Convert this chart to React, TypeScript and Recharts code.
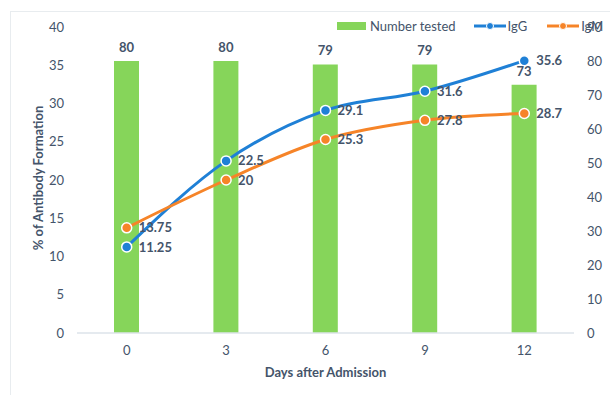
import React from 'react';
import {
  ComposedChart,
  Bar,
  Line,
  XAxis,
  YAxis,
  LabelList,
} from 'recharts';

const days = ['0', '3', '6', '9', '12'];
const numberTested = [80, 80, 79, 79, 73];
const igg = [11.25, 22.5, 29.1, 31.6, 35.6];
const igm = [13.75, 20, 25.3, 27.8, 28.7];
const leftTicks = [0, 5, 10, 15, 20, 25, 30, 35, 40];
const rightTicks = [0, 10, 20, 30, 40, 50, 60, 70, 80, 90];

const data = days.map((d, i) => ({
  day: d,
  tested: numberTested[i],
  igg: igg[i],
  igm: igm[i],
}));

const TEXT = '#44546a';
const FONT = 'Lato, "Open Sans", sans-serif';
const GREEN = '#86d55a';
const BLUE = '#1f80d6';
const ORANGE = '#f68428';

const renderDot = (color: string) => (props: any) => {
  const { cx, cy, index } = props;
  return (
    <circle key={index} cx={cx} cy={cy} r={5} fill={color} stroke="#fff" strokeWidth={1.5} />
  );
};

// legend sits over the chart like in the excel export
const LegendBox = () => (
  <div
    style={{
      position: 'absolute',
      left: 337,
      top: 18,
      display: 'flex',
      alignItems: 'center',
      color: TEXT,
      fontSize: 13,
      fontFamily: FONT,
      whiteSpace: 'nowrap',
    }}
  >
    <span style={{ display: 'inline-block', width: 29, height: 8, background: GREEN, marginRight: 4 }} />
    <span style={{ marginRight: 18 }}>Number tested</span>
    <svg width={32} height={10} style={{ marginRight: 2 }}>
      <line x1={0} y1={5} x2={32} y2={5} stroke={BLUE} strokeWidth={3} />
      <circle cx={16} cy={5} r={3.5} fill={BLUE} stroke="#fff" />
    </svg>
    <span style={{ marginRight: 20 }}>IgG</span>
    <svg width={32} height={10} style={{ marginRight: 2 }}>
      <line x1={0} y1={5} x2={32} y2={5} stroke={ORANGE} strokeWidth={3} />
      <circle cx={16} cy={5} r={3.5} fill={ORANGE} stroke="#fff" />
    </svg>
    <span>IgM</span>
  </div>
);

const YTitle = (props: any) => {
  const { viewBox } = props;
  const x = viewBox.x + 38;
  const y = viewBox.y + viewBox.height / 2 - 2;
  return (
    <text
      x={x}
      y={y}
      transform={`rotate(-90 ${x} ${y})`}
      textAnchor="middle"
      dominantBaseline="central"
      fill={TEXT}
      fontSize={13}
      fontWeight="bold"
      fontFamily={FONT}
    >
      % of Antibody Formation
    </text>
  );
};

export default function App() {
  return (
    <div
      style={{
        position: 'absolute',
        left: 0,
        top: 0,
        width: 610,
        height: 395,
        background: '#fff',
        fontFamily: FONT,
        overflow: 'hidden',
      }}
    >
      <div
        style={{
          position: 'absolute',
          left: 10,
          top: 11,
          width: 620,
          height: 400,
          border: '1px solid #e8ecef',
        }}
      />
      <ComposedChart
        width={610}
        height={395}
        data={data}
        margin={{ top: 27, right: 0, left: 0, bottom: 32 }}
        style={{ position: 'absolute', left: 0, top: 0 }}
      >
        <XAxis
          dataKey="day"
          height={30}
          axisLine={{ stroke: '#dde3ea', strokeWidth: 1.5 }}
          tickLine={false}
          tickSize={0}
          tickMargin={13}
          tick={{ fill: TEXT, fontSize: 13, fontFamily: FONT }}
          label={{
            value: 'Days after Admission',
            position: 'insideBottom',
            offset: -14,
            fill: TEXT,
            fontSize: 13,
            fontWeight: 'bold',
            fontFamily: FONT,
          }}
        />
        <YAxis
          yAxisId="left"
          orientation="left"
          width={77}
          domain={[0, 40]}
          ticks={leftTicks}
          axisLine={false}
          tickLine={false}
          tickSize={0}
          tickMargin={13}
          tick={{ fill: TEXT, fontSize: 13, fontFamily: FONT }}
          label={<YTitle />}
        />
        <YAxis
          yAxisId="right"
          orientation="right"
          width={36}
          domain={[0, 90]}
          ticks={rightTicks}
          axisLine={false}
          tickLine={false}
          tickSize={0}
          tickMargin={13}
          tick={{ fill: TEXT, fontSize: 13, fontFamily: FONT }}
        />
        <Bar
          yAxisId="right"
          dataKey="tested"
          name="Number tested"
          fill={GREEN}
          barSize={25}
          isAnimationActive={false}
        >
          <LabelList
            dataKey="tested"
            position="top"
            offset={9}
            fill={TEXT}
            fontSize={13}
            fontWeight="bold"
            fontFamily={FONT}
          />
        </Bar>
        <Line
          yAxisId="left"
          type="monotone"
          dataKey="igg"
          name="IgG"
          stroke={BLUE}
          strokeWidth={3}
          dot={renderDot(BLUE)}
          isAnimationActive={false}
        >
          <LabelList
            dataKey="igg"
            position="right"
            offset={12}
            fill={TEXT}
            fontSize={13}
            fontWeight="bold"
            fontFamily={FONT}
          />
        </Line>
        <Line
          yAxisId="left"
          type="monotone"
          dataKey="igm"
          name="IgM"
          stroke={ORANGE}
          strokeWidth={3}
          dot={renderDot(ORANGE)}
          isAnimationActive={false}
        >
          <LabelList
            dataKey="igm"
            position="right"
            offset={12}
            fill={TEXT}
            fontSize={13}
            fontWeight="bold"
            fontFamily={FONT}
          />
        </Line>
      </ComposedChart>
      <LegendBox />
    </div>
  );
}
